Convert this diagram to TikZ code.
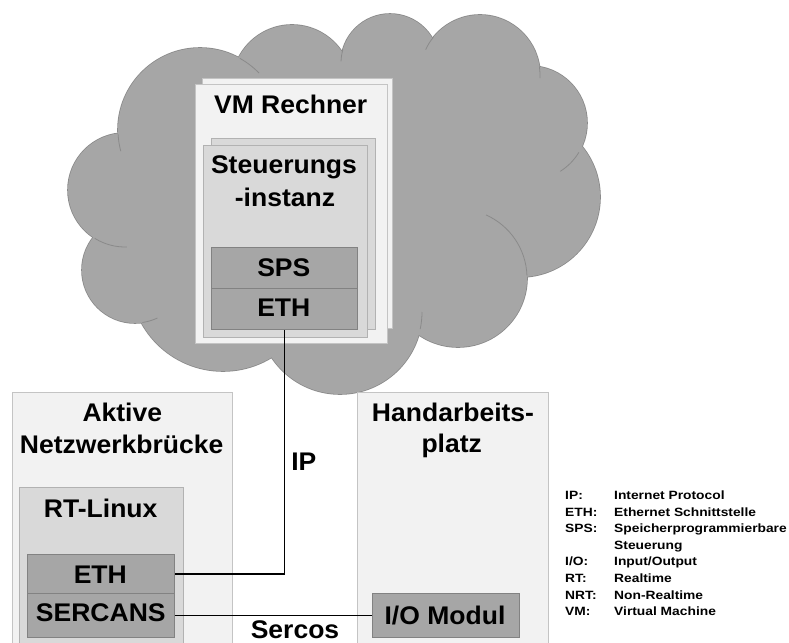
\documentclass[tikz,border=0pt]{standalone}
\usepackage{fontspec}
\setmainfont{Liberation Sans}[FakeStretch=1.04]
\newfontfamily\legendfont{Liberation Sans}[FakeStretch=1.15]
\definecolor{cloudfill}{HTML}{A6A6A6}
\definecolor{cloudline}{HTML}{8A8A8A}
\definecolor{lightfill}{HTML}{F2F2F2}
\definecolor{lightline}{HTML}{C4C4C4}
\definecolor{midfill}{HTML}{D9D9D9}
\definecolor{midline}{HTML}{B2B2B2}
\definecolor{darkfill}{HTML}{A6A6A6}
\definecolor{darkline}{HTML}{828282}
\begin{document}
\begin{tikzpicture}[x=1pt,y=-1pt,
  lightbox/.style={rectangle, draw=lightline, fill=lightfill, line width=0.9pt, anchor=north west, inner sep=0pt},
  midbox/.style={rectangle, draw=midline, fill=midfill, line width=0.9pt, anchor=north west, inner sep=0pt},
  darkbox/.style={rectangle, draw=darkline, fill=darkfill, line width=0.9pt, anchor=north west, inner sep=0pt},
  title/.style={anchor=base, font=\fontsize{25.5}{30}\selectfont\bfseries, inner sep=0pt},
  legend/.style={anchor=base west, font=\legendfont\fontsize{12}{14}\selectfont\bfseries, inner sep=0pt},
  wire/.style={draw=black, line width=1.3pt},
  cloudinner/.style={draw=cloudline, line width=0.8pt}
]
\useasboundingbox (0,0) rectangle (789,642);
\clip (0,0) rectangle (789,642);
\fill[white] (0,0) rectangle (789,642);

% cloud: outlines, then fills
\foreach \cx/\cy/\r in {125/190/57, 135/270/53, 200/130/82, 292/85/60, 390/63/49, 480/75/60, 530/123/57, 520/197/80, 458/278/69, 340/312/82, 223/278/93}
  \draw[draw=cloudline, line width=1.6pt] (\cx,\cy) circle[radius=\r];
\foreach \cx/\cy/\r in {125/190/57, 135/270/53, 200/130/82, 292/85/60, 390/63/49, 480/75/60, 530/123/57, 520/197/80, 458/278/69, 340/312/82, 223/278/93}
  \fill[cloudfill] (\cx,\cy) circle[radius=\r];
\fill[cloudfill] (125,190)--(200,130)--(292,85)--(390,63)--(480,75)--(530,123)--(520,197)--(458,278)--(340,312)--(223,278)--(135,270)--cycle;
% inner arcs of the cloud
\foreach \cx/\cy/\r/\a/\b in {125/190/57/122/88, 135/270/53/82/65, 200/130/82/177/165, 200/130/82/-61/-44, 390/63/49/196/182, 480/75/60/219/205, 480/75/60/-8/3, 530/123/57/58/31, 458/278/69/-66/-2, 340/312/82/12/0}
  \draw[cloudinner] ([shift={(\a:\r)}]\cx,\cy) arc[start angle=\a, end angle=\b, radius=\r];

% VM Rechner
\node[lightbox, minimum width=190pt, minimum height=250.6pt] (vmback) at (201.7,77.7) {};
\node[lightbox, minimum width=191.7pt, minimum height=258.7pt] (vm) at (195,84) {};
\node[title] (vmtxt) at (290.7,113.3) {VM Rechner};
\node[midbox, minimum width=164.3pt, minimum height=191pt] (stback) at (210.7,138.3) {};
\node[midbox, minimum width=164pt, minimum height=191.7pt] (st) at (202.7,145) {};
\node[title] (sttxt1) at (284,173) {Steuerungs};
\node[title] (sttxt2) at (285,206.7) {-instanz};
\node[darkbox, minimum width=146.6pt, minimum height=40.4pt] (sps) at (210.7,247.3) {};
\node[title] (spstxt) at (283.8,276) {SPS};
\node[darkbox, minimum width=146.6pt, minimum height=41.6pt] (eth1) at (210.7,287.7) {};
\node[title] (eth1txt) at (283.8,316) {ETH};

% Aktive Netzwerkbruecke
\node[lightbox, minimum width=220.6pt, minimum height=280pt] (ak) at (11.7,391.7) {};
\node[title] (aktxt1) at (122.3,421.7) {Aktive};
\node[title] (aktxt2) at (121.7,453.3) {Netzwerkbrücke};
\node[midbox, minimum width=164pt, minimum height=190pt] (rt) at (19.3,487.3) {};
\node[title] (rttxt) at (100.7,517.3) {RT-Linux};
\node[darkbox, minimum width=147pt, minimum height=39.3pt] (eth2) at (27.3,554) {};
\node[title] (eth2txt) at (100.3,583.3) {ETH};
\node[darkbox, minimum width=147pt, minimum height=43.4pt] (ser) at (27.3,593.3) {};
\node[title] (sertxt) at (100.8,621.7) {SERCANS};

% Handarbeitsplatz
\node[lightbox, minimum width=191pt, minimum height=280pt] (ha) at (356.7,391.7) {};
\node[title] (hatxt1) at (453,421.7) {Handarbeits-};
\node[title] (hatxt2) at (451.7,452.7) {platz};
\node[darkbox, minimum width=147pt, minimum height=43.4pt] (io) at (372.3,593.3) {};
\node[title] (iotxt) at (445,624.3) {I/O Modul};

% connectors
\draw[wire] (eth1.south) |- (eth2.east);
\draw[wire] (ser.east) -- (io.west);
\node[title] (iplbl) at (303.8,470) {IP};
\node[title] (sercoslbl) at (295,638.5) {Sercos};

% legend
\node[legend] (l1a) at (565,499.5) {IP:};
\node[legend] (l1b) at (614,499.5) {Internet Protocol};
\node[legend] (l2a) at (565,516.1) {ETH:};
\node[legend] (l2b) at (614,516.1) {Ethernet Schnittstelle};
\node[legend] (l3a) at (565,532.7) {SPS:};
\node[legend] (l3b) at (614,532.7) {Speicherprogrammierbare};
\node[legend] (l4b) at (614,549.3) {Steuerung};
\node[legend] (l5a) at (565,565.9) {I/O:};
\node[legend] (l5b) at (614,565.9) {Input/Output};
\node[legend] (l6a) at (565,582.5) {RT:};
\node[legend] (l6b) at (614,582.5) {Realtime};
\node[legend] (l7a) at (565,599.1) {NRT:};
\node[legend] (l7b) at (614,599.1) {Non-Realtime};
\node[legend] (l8a) at (565,615.7) {VM:};
\node[legend] (l8b) at (614,615.7) {Virtual Machine};
\end{tikzpicture}
\end{document}
